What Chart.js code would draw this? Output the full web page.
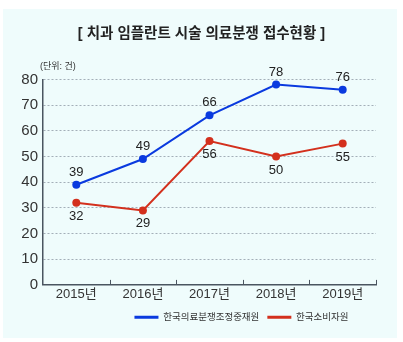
<!DOCTYPE html>
<html>
<head>
<meta charset="utf-8">
<script src="https://cdn.jsdelivr.net/npm/chart.js@4"></script>
<style>
  html, body { margin: 0; padding: 0; background: #ffffff; }
  #wrap { position: relative; width: 403px; height: 342px; }
  #panel { position: absolute; left: 3px; top: 9px; width: 394px; height: 329px; background: #effcfc; }
  #chart { position: absolute; left: 0; top: 0; }
</style>
</head>
<body>
<div id="wrap">
  <div id="panel"></div>
  <canvas id="chart" width="403" height="342"></canvas>
</div>
<script>
// Chart data
const years = ["2015년", "2016년", "2017년", "2018년", "2019년"];
const mediationValues = [39, 49, 66, 78, 76];   // 한국의료분쟁조정중재원
const consumerValues = [32, 29, 56, 50, 55];    // 한국소비자원
const yTicks = [0, 10, 20, 30, 40, 50, 60, 70, 80];

const seriesNames = ["한국의료분쟁조정중재원", "한국소비자원"];
const blue = "#0a3adf";
const red = "#d3301d";
const fontFamily = "'Liberation Sans', 'Noto Sans CJK KR', sans-serif";

// Value labels: blue above the point, red below
const valueLabels = {
    id: "valueLabels",
    afterDatasetsDraw(chart) {
        const ctx = chart.ctx;
        ctx.save();
        ctx.font = "13px " + fontFamily;
        ctx.fillStyle = "#222";
        ctx.textAlign = "center";
        chart.data.datasets.forEach(function (ds, i) {
            const meta = chart.getDatasetMeta(i);
            meta.data.forEach(function (pt, j) {
                if (i === 0) {
                    ctx.textBaseline = "bottom";
                    ctx.fillText(ds.data[j], pt.x, pt.y - 6);
                } else {
                    ctx.textBaseline = "top";
                    ctx.fillText(ds.data[j], pt.x, pt.y + 7);
                }
            });
        });
        ctx.restore();
    }
};

// Unit note, small upward ticks on the x axis, legend shifted right
const extras = {
    id: "extras",
    afterLayout(chart) {
        // the legend in the original sits right of centre
        chart.legend.left += 40;
        chart.legend.right += 40;
    },
    afterDraw(chart) {
        const ctx = chart.ctx;
        const area = chart.chartArea;
        ctx.save();
        ctx.font = "9px " + fontFamily;
        ctx.fillStyle = "#333";
        ctx.textAlign = "left";
        ctx.textBaseline = "middle";
        ctx.fillText("(단위: 건)", 40, 67);

        ctx.strokeStyle = "#4a5560";
        ctx.lineWidth = 1;
        const step = (area.right - area.left) / years.length;
        for (let i = 1; i <= years.length; i++) {
            const x = Math.round(area.left + i * step) + 0.5;
            ctx.beginPath();
            ctx.moveTo(x, area.bottom);
            ctx.lineTo(x, area.bottom - 5);
            ctx.stroke();
        }
        ctx.restore();
    }
};

const ctx = document.getElementById("chart").getContext("2d");
new Chart(ctx, {
    type: "line",
    data: {
        labels: years,
        datasets: [{
            label: seriesNames[0],
            data: mediationValues,
            borderColor: blue,
            backgroundColor: blue,
            borderWidth: 2,
            pointRadius: 4,
            pointBackgroundColor: blue,
            pointBorderWidth: 0,
            tension: 0
        }, {
            label: seriesNames[1],
            data: consumerValues,
            borderColor: red,
            backgroundColor: red,
            borderWidth: 2,
            pointRadius: 4,
            pointBackgroundColor: red,
            pointBorderWidth: 0,
            tension: 0
        }]
    },
    options: {
        responsive: false,
        animation: false,
        layout: {
            padding: { left: 3, right: 3, top: 0, bottom: 10 }
        },
        scales: {
            x: {
                offset: true,
                grid: { display: false, drawTicks: false },
                border: { display: true, color: "#4a5560", width: 1.5 },
                ticks: {
                    color: "#333",
                    padding: 2,
                    font: { family: fontFamily, size: 13 }
                }
            },
            y: {
                min: 0,
                max: 80,
                afterBuildTicks: function (scale) {
                    scale.ticks = yTicks.map(function (v) { return { value: v }; });
                },
                afterFit: function (scale) {
                    scale.width = 40;
                },
                grid: {
                    color: "#a3afb8",
                    drawTicks: false
                },
                border: { display: true, color: "#4a5560", width: 1.5, dash: [2, 2] },
                ticks: {
                    color: "#333",
                    padding: 5,
                    font: { family: fontFamily, size: 15 }
                }
            },
            // empty axis that only reserves the space on the right
            yRight: {
                position: "right",
                min: 0,
                max: 80,
                grid: { display: false },
                border: { display: false },
                ticks: { display: false },
                afterFit: function (scale) {
                    scale.width = 24;
                }
            }
        },
        plugins: {
            title: {
                display: true,
                text: "[ 치과 임플란트 시술 의료분쟁 접수현황 ]",
                color: "#222",
                font: { family: fontFamily, size: 14.5, weight: "bold" },
                padding: { top: 25, bottom: 37 }
            },
            legend: {
                position: "bottom",
                labels: {
                    boxWidth: 24,
                    boxHeight: 3,
                    color: "#333",
                    padding: 8,
                    font: { family: fontFamily, size: 9.5 },
                    generateLabels: function (chart) {
                        return chart.data.datasets.map(function (ds, i) {
                            return {
                                text: ds.label,
                                fillStyle: ds.borderColor,
                                strokeStyle: ds.borderColor,
                                lineWidth: 0,
                                fontColor: "#333",
                                datasetIndex: i
                            };
                        });
                    }
                }
            },
            tooltip: { enabled: false }
        }
    },
    plugins: [valueLabels, extras]
});
</script>
</body>
</html>
